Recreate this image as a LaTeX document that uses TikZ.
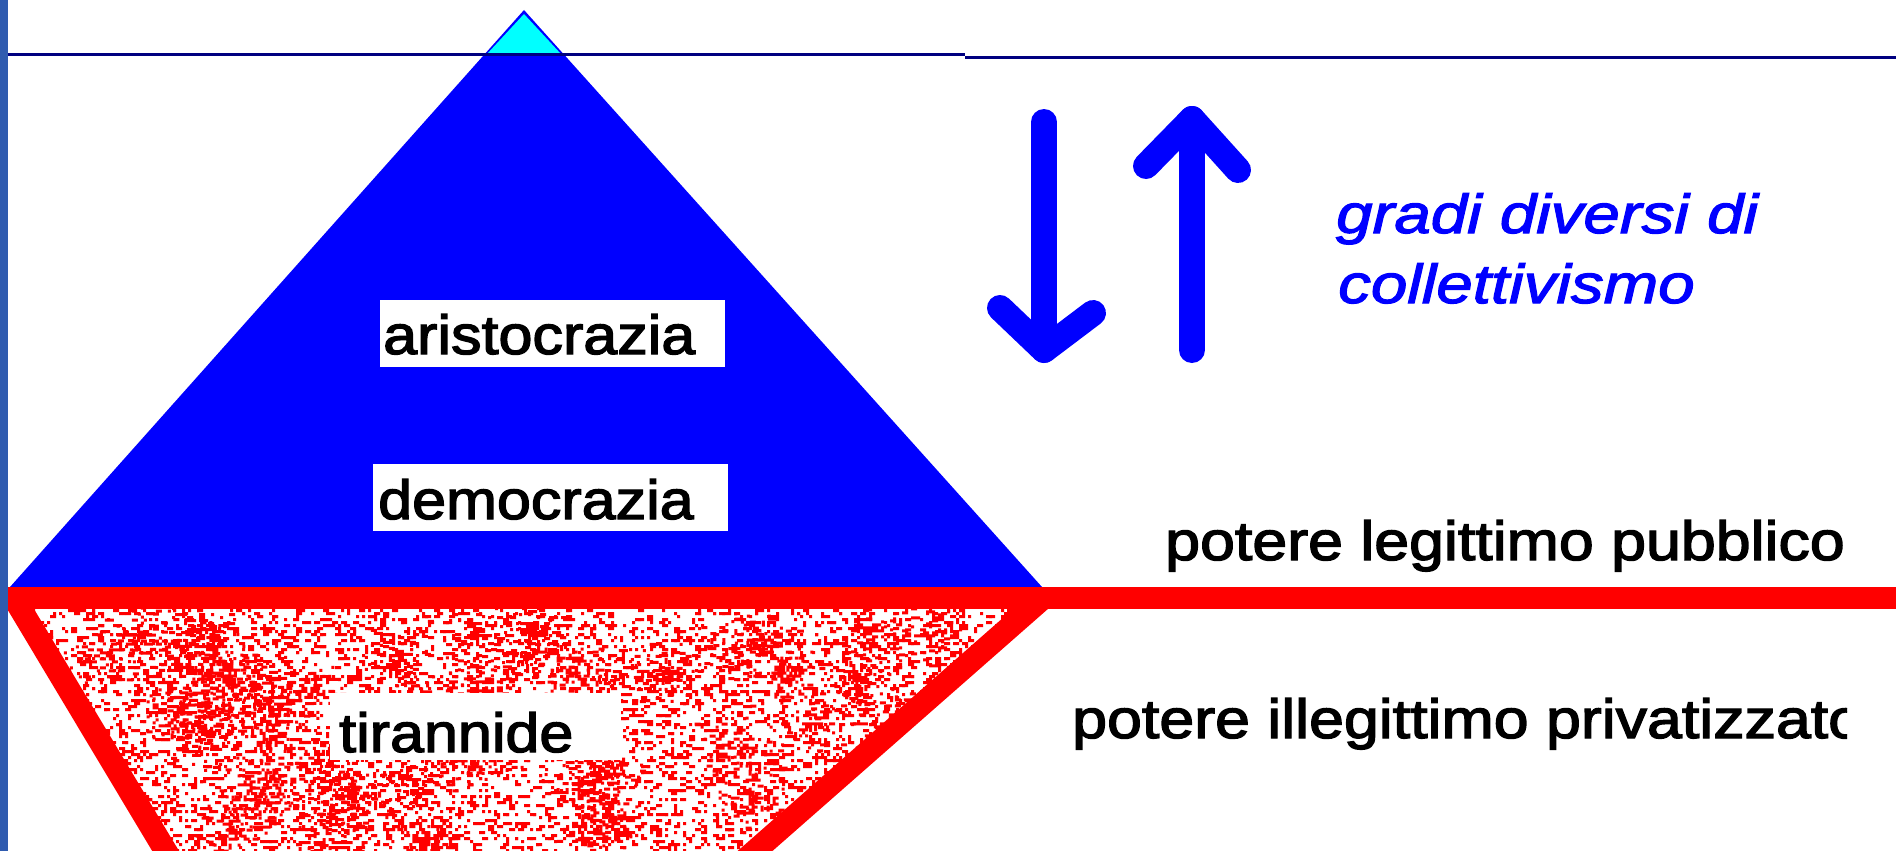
\documentclass[tikz,border=0pt]{standalone}
\usepackage{fontspec}
\setmainfont{Liberation Sans}
\newfontfamily\lab[FakeStretch=1.11,FakeBold=2.5]{Liberation Sans}
\newfontfamily\labr[FakeStretch=1.14,FakeBold=2.5]{Liberation Sans}
\newfontfamily\blu[FakeStretch=1.19,FakeBold=2.2]{Liberation Sans}
\definecolor{pblue}{HTML}{0000FF}
\definecolor{pcyan}{HTML}{00FFFF}
\definecolor{navyline}{HTML}{000080}
\definecolor{pred}{HTML}{FF0000}
\definecolor{sidebar}{HTML}{2F5BAF}
\tikzset{
  wbox/.style={fill=white, draw=none, inner sep=0pt, minimum width=#1},
  lbl/.style={inner sep=0pt, anchor=base west, text=black, font=\lab\fontsize{55}{66}\selectfont},
  lblr/.style={inner sep=0pt, anchor=base west, text=black, font=\labr\fontsize{55}{66}\selectfont},
  blulbl/.style={inner sep=0pt, anchor=base west, text=pblue, font=\blu\itshape\fontsize{55}{70}\selectfont},
  redstroke/.style={draw=pred, line width=23},
  arrowstroke/.style={draw=pblue, line width=26, line cap=round, line join=round},
}
\begin{document}
\begin{tikzpicture}[x=1pt,y=-1pt]
\useasboundingbox (0,0) rectangle (1896,851);
\fill[white] (0,0) rectangle (1896,851);
% pyramid
\fill[pblue] (524,10) -- (1042,587) -- (10,587) -- cycle;
\fill[pcyan] (524,14) -- (561,54) -- (487,54) -- cycle;
% top navy lines
\draw[navyline, line width=2.5] (8,54.5) -- (965,54.5);
\draw[navyline, line width=3] (965,57.5) -- (1896,57.5);
% speckled fill of the lower trapezoid
\begin{scope}
  \clip (20,609) -- (1035,609) -- (738,851) -- (175,851) -- cycle;
  \pgfmathsetseed{4711}
  % uniform background grain
  \foreach \j in {1,...,62} {
    \fill[pred] \foreach \i in {1,...,100} {
      ({20+3*int(338*rnd)},{609+3*int(81*rnd)}) rectangle ++({3+3*int(1.6*rnd)},3)
    };
  }
  % denser clusters
  \foreach \j in {1,...,55} {
    \pgfmathsetmacro\cx{60+900*rnd}
    \pgfmathsetmacro\cy{615+230*rnd}
    \fill[pred] \foreach \i in {1,...,70} {
      ({\cx+3*int(14*(rnd+rnd-1))},{\cy+3*int(12*(rnd+rnd-1))}) rectangle ++({3+3*int(1.6*rnd)},3)
    };
  }
\end{scope}
% red band and trapezoid sides
\coordinate (bandL) at (8,598);
\coordinate (bandR) at (1896,598);
\coordinate (legL) at (14,598);
\coordinate (legLb) at (183,880);
\coordinate (legR) at (1043,598);
\coordinate (legRb) at (722,880);
\draw[redstroke, line width=22] (bandL) -- (bandR);
\draw[redstroke] (legL) -- (legLb);
\draw[redstroke] (legR) -- (legRb);
% left side bar
\fill[sidebar] (0,0) rectangle (8,851);
% label boxes
\node[wbox=345, minimum height=67] (boxA) at (552.5,333.5) {};
\node[wbox=355, minimum height=67] (boxD) at (550.5,497.5) {};
\node[wbox=291, minimum height=67] (boxT) at (475.5,726.5) {};
\node[lbl] (txtA) at (383,354) {aristocrazia};
\node[lbl] (txtD) at (378,519) {democrazia};
\node[lbl] (txtT) at (339,752) {tirannide};
% right texts
\begin{scope}
  \clip (0,0) rectangle (1847,851);
  \node[lblr] (pub) at (1165,560) {potere legittimo pubblico};
  \node[lblr] (priv) at (1072,738) {potere illegittimo privatizzato};
\end{scope}
\node[blulbl] (g1) at (1336,233) {gradi diversi di};
\node[blulbl] (g2) at (1338,303) {collettivismo};
% arrows
\coordinate (dTop) at (1044,122);
\coordinate (dTip) at (1044,350);
\coordinate (dL) at (1000,308);
\coordinate (dR) at (1093,313);
\coordinate (uBot) at (1192,350);
\coordinate (uTip) at (1192,119);
\coordinate (uL) at (1146,166);
\coordinate (uR) at (1238,170);
\draw[arrowstroke] (dTop) -- (dTip);
\draw[arrowstroke] (dL) -- (dTip) -- (dR);
\draw[arrowstroke] (uBot) -- (uTip);
\draw[arrowstroke] (uL) -- (uTip) -- (uR);
\end{tikzpicture}
\end{document}
